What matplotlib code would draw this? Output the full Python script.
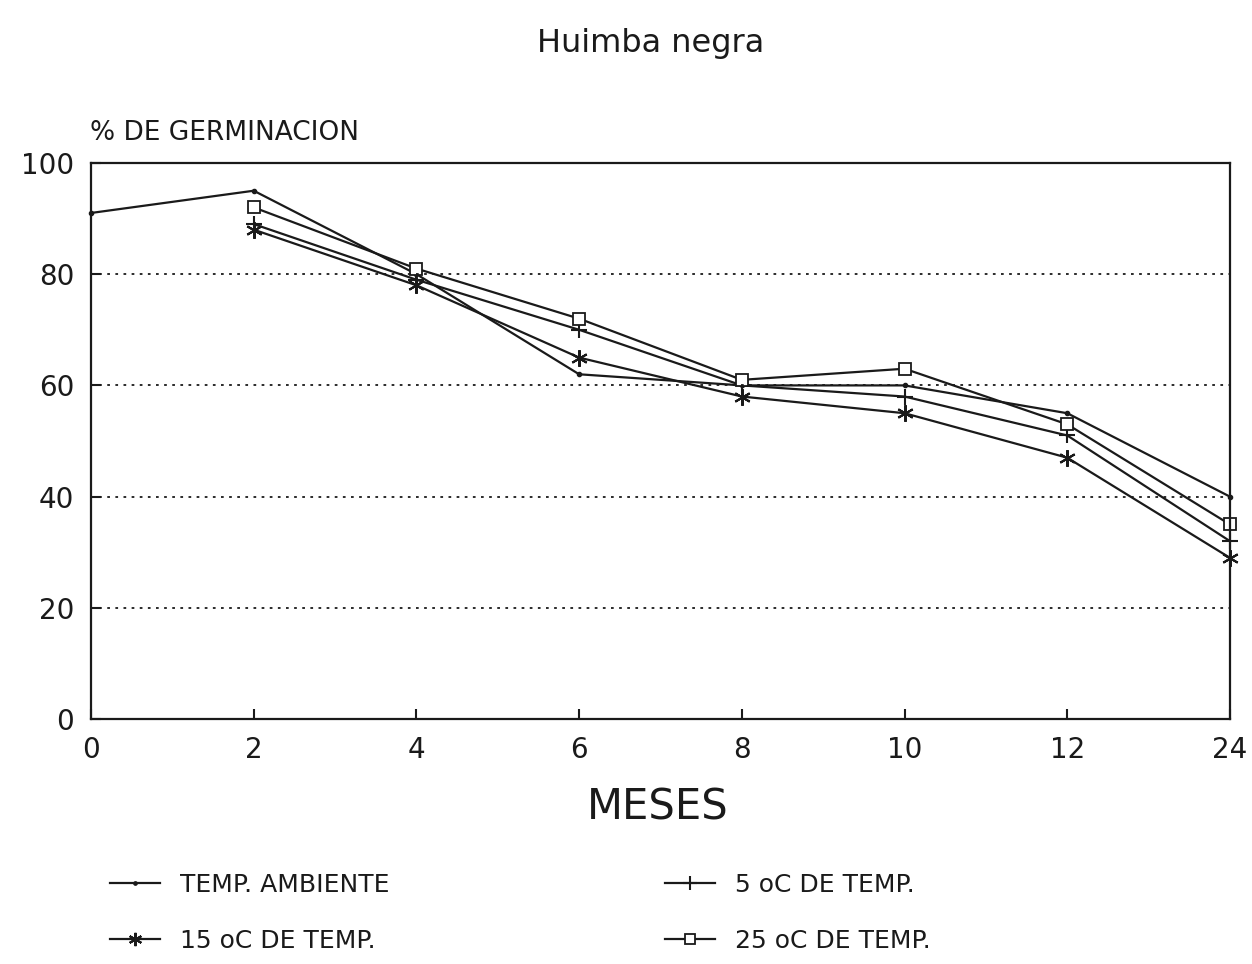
import matplotlib.pyplot as plt

# data
meses = ['0', '2', '4', '6', '8', '10', '12', '24']
ambiente = [91, 95, 80, 62, 60, 60, 55, 40]
temp5 = [None, 89, 79, 70, 60, 58, 51, 32]
temp15 = [None, 88, 78, 65, 58, 55, 47, 29]
temp25 = [None, 92, 81, 72, 61, 63, 53, 35]

plt.rcParams['font.family'] = ['DejaVu Sans']

x = list(range(len(meses)))

fig = plt.figure(figsize=(12.52, 9.64), dpi=100)
ax = fig.add_axes([0.0727, 0.254, 0.9097, 0.577])

def pts(vals):
    xs = [i for i, v in zip(x, vals) if v is not None]
    ys = [v for v in vals if v is not None]
    return xs, ys

lw = 1.6
c = '#1a1a1a'
l1, = ax.plot(*pts(ambiente), color=c, lw=lw, marker='.', markersize=6, clip_on=False)
l2, = ax.plot(*pts(temp5), color=c, lw=lw, marker='+', markersize=12,
              markeredgewidth=1.5, clip_on=False)
l3, = ax.plot(*pts(temp15), color=c, lw=lw, marker=(6, 2, 0), markersize=12,
              markeredgewidth=1.5, clip_on=False)
l4, = ax.plot(*pts(temp25), color=c, lw=lw, marker='s', markersize=9,
              markerfacecolor='white', markeredgewidth=1.3, clip_on=False)

ax.set_xlim(0, 7)
ax.set_ylim(0, 100)
ax.set_xticks(x)
ax.set_xticklabels(meses)
ax.set_yticks([0, 20, 40, 60, 80, 100])
for yv in [20, 40, 60, 80]:
    ax.axhline(yv, color=c, lw=1.3, ls=(0, (1.5, 3)))
ax.tick_params(direction='in', length=7, width=1.5, labelsize=20, colors=c, pad=12)
for s in ax.spines.values():
    s.set_linewidth(1.6)
    s.set_color(c)

fig.text(0.52, 0.955, 'Huimba negra', ha='center', va='center', fontsize=23, color=c)
fig.text(0.072, 0.862, '% DE GERMINACION', ha='left', va='center', fontsize=19, color=c)
fig.text(0.525, 0.162, 'MESES', ha='center', va='center', fontsize=30, color=c)

leg = fig.legend([l1, l3, l2, l4],
                 ['TEMP. AMBIENTE', '15 oC DE TEMP.', '5 oC DE TEMP.', '25 oC DE TEMP.'],
                 loc='lower left', bbox_to_anchor=(0.07, -0.012), ncol=2, frameon=False,
                 fontsize=18, markerscale=0.8, handlelength=2.0, columnspacing=11,
                 labelspacing=1.3, labelcolor=c)

fig.savefig('out.png', dpi=100)
